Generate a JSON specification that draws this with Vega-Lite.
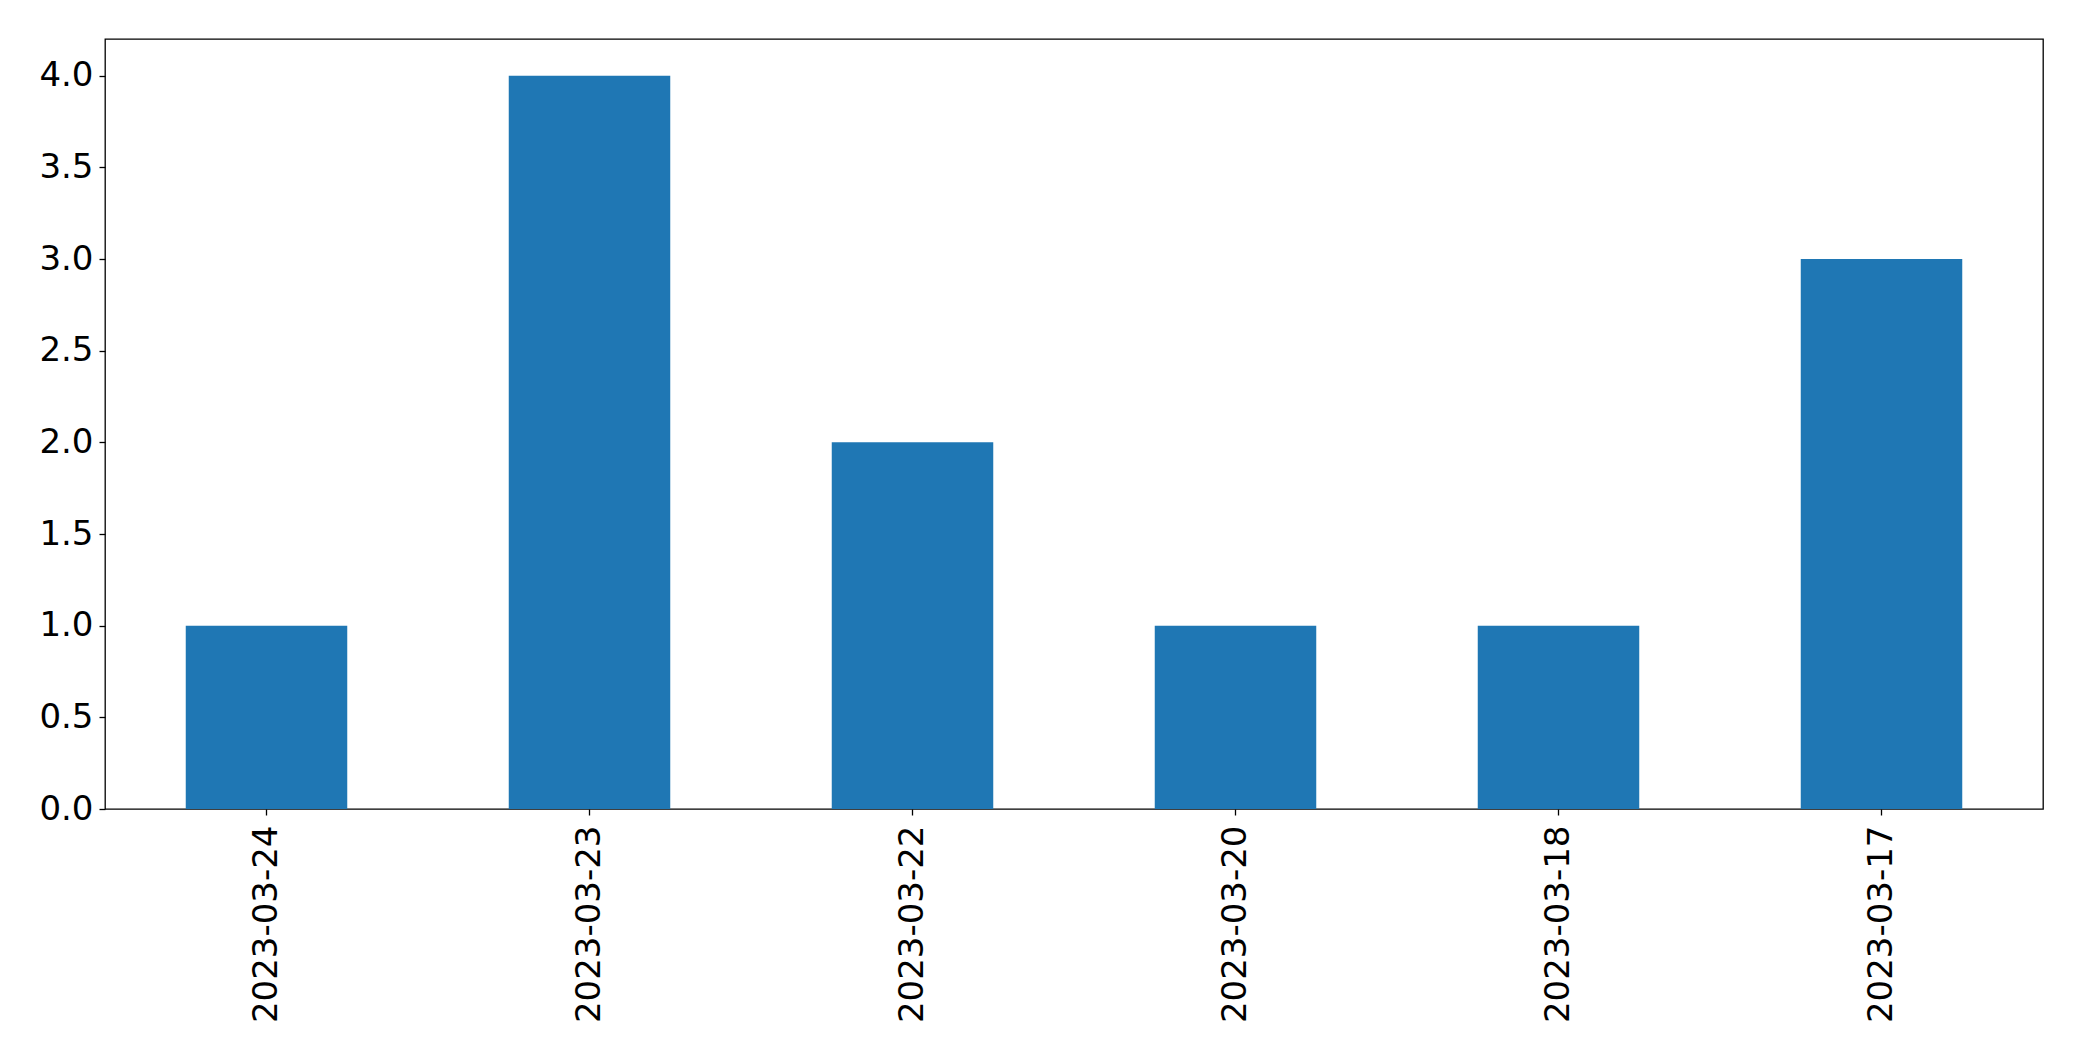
{
  "$schema": "https://vega.github.io/schema/vega-lite/v6.json",
  "width": 1938,
  "height": 770,
  "autosize": {"type": "none"},
  "padding": {"left": 105, "top": 39, "right": 39, "bottom": 252},
  "background": "white",
  "config": {
    "view": {"stroke": "black", "strokeWidth": 1.3},
    "axis": {
      "labelFont": "DejaVu Sans",
      "labelFontSize": 34,
      "labelColor": "black",
      "labelLimit": 0,
      "tickColor": "black",
      "tickSize": 6,
      "tickWidth": 1.3,
      "domain": false,
      "grid": false,
      "title": null
    }
  },
  "data": {
    "values": [
      {"date": "2023-03-24", "count": 1},
      {"date": "2023-03-23", "count": 4},
      {"date": "2023-03-22", "count": 2},
      {"date": "2023-03-20", "count": 1},
      {"date": "2023-03-18", "count": 1},
      {"date": "2023-03-17", "count": 3}
    ]
  },
  "mark": {"type": "bar", "color": "#1f77b4"},
  "encoding": {
    "x": {
      "field": "date",
      "type": "nominal",
      "sort": null,
      "scale": {"paddingInner": 0.5, "paddingOuter": 0.25},
      "axis": {"labelAngle": -90, "labelAlign": "right", "labelBaseline": "middle", "labelPadding": 10}
    },
    "y": {
      "field": "count",
      "type": "quantitative",
      "scale": {"domain": [0, 4.2], "nice": false},
      "axis": {"values": [0, 0.5, 1, 1.5, 2, 2.5, 3, 3.5, 4], "format": ".1f", "labelPadding": 6}
    }
  }
}
